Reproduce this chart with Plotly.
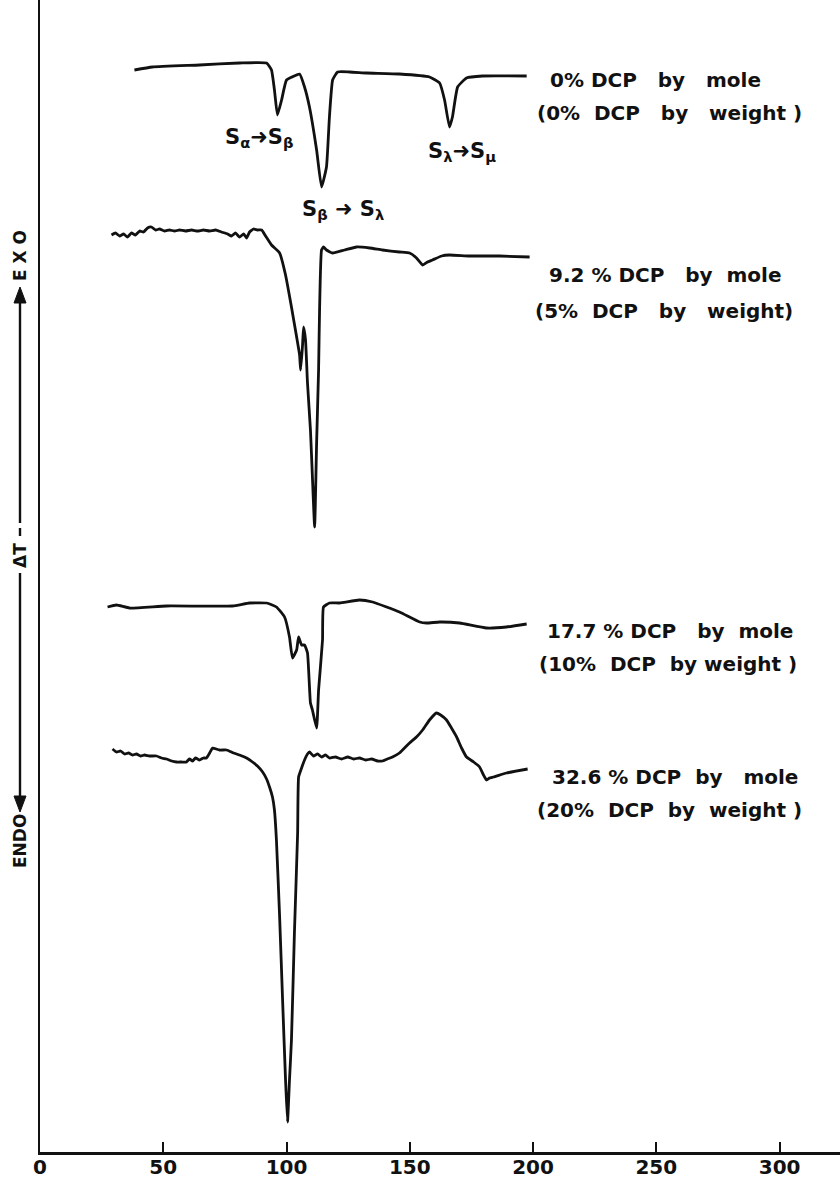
import plotly.graph_objects as go

# DTA thermograms of sulfur / DCP mixtures (temperature in deg C, Delta T in arbitrary units,
# curves stacked with vertical offsets)

temp_0 = [38.3, 45.6, 64.7, 80.9, 91.9, 93.9, 95.1, 96.3, 98.0, 100.0, 104.1, 105.3, 107.3,
          109.3, 112.2, 114.2, 116.2, 117.4, 118.7, 120.7, 125.6, 132.5, 145.8, 158.0, 162.1,
          164.1, 166.1, 167.3, 169.4, 173.0, 179.5, 197.4]
dta_0 = [108.2, 108.5, 108.7, 108.9, 108.9, 108.2, 106.2, 103.7, 105.2, 107.2, 107.7, 107.8,
         106.5, 104.5, 100.2, 96.5, 98.5, 103.5, 107.2, 108.0, 108.0, 107.9, 107.8, 107.5,
         106.9, 105.2, 102.5, 103.5, 106.5, 107.4, 107.6, 107.6]

temp_5 = [29.0, 30.6, 32.3, 33.9, 35.5, 37.1, 38.7, 40.4, 42.0, 43.6, 45.2, 46.9, 48.5, 50.5,
          52.5, 54.6, 56.6, 59.0, 61.5, 63.9, 66.3, 68.8, 71.2, 73.6, 76.1, 77.7, 79.3, 80.9,
          82.6, 83.8, 85.0, 86.6, 88.2, 89.9, 91.5, 93.9, 97.2, 99.6, 102.0, 104.1, 105.3,
          105.7, 106.5, 106.9, 107.7, 108.5, 109.7, 110.5, 111.4, 112.2, 113.0, 113.4, 114.2,
          115.0, 116.2, 118.7, 123.5, 128.4, 133.7, 138.9, 145.8, 149.9, 152.7, 155.2, 157.2,
          159.2, 162.9, 166.1, 174.2, 186.4, 198.6]
dta_5 = [91.7, 91.9, 91.6, 91.8, 91.5, 91.9, 91.7, 92.1, 92.0, 92.4, 92.5, 92.2, 92.3, 92.1,
         92.2, 92.1, 92.2, 92.1, 92.2, 92.1, 92.2, 92.1, 92.2, 92.0, 91.8, 91.6, 91.9, 91.5,
         91.8, 91.4, 92.0, 92.3, 92.2, 92.2, 91.6, 90.7, 89.9, 87.7, 84.5, 81.5, 79.7, 78.2,
         80.7, 82.5, 81.2, 76.9, 72.2, 67.5, 62.5, 70.9, 78.2, 84.2, 90.2, 90.5, 90.2, 89.9,
         90.2, 90.5, 90.4, 90.2, 90.0, 89.9, 89.4, 88.7, 89.0, 89.2, 89.6, 89.7, 89.6, 89.6,
         89.5]

temp_10 = [27.4, 31.0, 36.3, 51.3, 78.1, 85.0, 91.9, 95.9, 99.2, 101.2, 102.4, 104.1, 104.9,
           106.1, 107.3, 108.5, 109.7, 110.5, 112.2, 113.0, 114.6, 115.0, 117.4, 121.5, 129.6,
           134.9, 145.8, 154.0, 156.8, 162.1, 170.2, 181.1, 189.2, 197.4]
dta_10 = [54.5, 54.7, 54.4, 54.6, 54.6, 54.9, 54.9, 54.5, 53.5, 51.5, 49.4, 50.2, 51.5, 50.7,
          50.7, 49.9, 44.9, 44.2, 42.4, 46.2, 51.2, 54.5, 54.9, 54.9, 55.2, 55.0, 54.0, 53.0,
          52.9, 53.0, 52.9, 52.4, 52.5, 52.8]

temp_20 = [29.4, 31.0, 32.7, 34.3, 35.9, 37.5, 39.1, 40.8, 42.4, 44.4, 47.3, 49.3, 51.3, 53.4,
           55.4, 57.4, 59.4, 60.6, 61.9, 63.1, 64.7, 66.3, 67.5, 68.8, 70.0, 72.8, 75.7, 78.5,
           80.9, 83.8, 86.2, 88.2, 90.3, 91.9, 93.1, 94.3, 95.1, 95.9, 97.2, 98.4, 99.6, 100.4,
           101.2, 102.0, 103.2, 104.5, 104.9, 106.1, 107.3, 108.5, 109.3, 110.9, 112.6, 114.2,
           115.8, 117.4, 119.9, 122.3, 124.8, 127.2, 129.6, 132.1, 134.5, 136.9, 138.9, 140.9,
           143.0, 145.8, 149.9, 152.7, 155.2, 158.0, 160.8, 162.5, 164.9, 166.9, 169.0, 171.0,
           173.0, 175.9, 178.3, 179.9, 181.1, 182.3, 184.0, 189.2, 197.8]
dta_20 = [40.3, 40.0, 40.1, 39.8, 39.9, 39.7, 39.8, 39.6, 39.7, 39.6, 39.6, 39.4, 39.3, 39.1,
          39.0, 39.0, 39.0, 39.3, 39.1, 39.4, 39.2, 39.4, 39.4, 39.9, 40.4, 40.2, 40.2, 39.9,
          39.7, 39.4, 39.0, 38.6, 38.0, 37.3, 36.5, 35.5, 34.2, 31.2, 23.5, 15.2, 7.2, 3.0,
          7.2, 11.2, 21.9, 31.9, 37.5, 38.4, 39.2, 39.8, 40.0, 39.6, 39.8, 39.5, 39.7, 39.4,
          39.5, 39.3, 39.5, 39.3, 39.4, 39.2, 39.3, 39.1, 39.1, 39.3, 39.5, 39.9, 40.9, 41.5,
          42.2, 43.2, 43.9, 43.7, 43.2, 42.4, 41.5, 40.4, 39.5, 39.0, 38.5, 37.7, 37.2, 37.4,
          37.5, 37.9, 38.3]

curve_temps = [temp_0, temp_5, temp_10, temp_20]
curve_dta = [dta_0, dta_5, dta_10, dta_20]

NB = "\u00a0"
mole_labels = [f"0%{NB}DCP{NB}{NB}{NB}by{NB}{NB}{NB}mole",
               f"9.2{NB}%{NB}DCP{NB}{NB}{NB}by{NB}{NB}mole",
               f"17.7{NB}%{NB}DCP{NB}{NB}{NB}by{NB}{NB}mole",
               f"32.6{NB}%{NB}DCP{NB}{NB}by{NB}{NB}{NB}mole"]
weight_labels = [f"(0%{NB}{NB}DCP{NB}{NB}{NB}by{NB}{NB}{NB}weight{NB})",
                 f"(5%{NB}{NB}DCP{NB}{NB}{NB}by{NB}{NB}{NB}weight)",
                 f"(10%{NB}{NB}DCP{NB}{NB}by{NB}weight{NB})",
                 f"(20%{NB}{NB}DCP{NB}{NB}by{NB}{NB}weight{NB})"]
mole_x = [205.9, 205.5, 204.7, 206.7]
weight_x = [200.6, 199.8, 201.4, 200.6]
mole_y = [107.2, 87.7, 52.1, 37.5]
weight_y = [103.9, 84.1, 48.8, 34.2]

transition_labels = ["S<sub>α</sub>➜S<sub>β</sub>", f"S<sub>β</sub>{NB}➜{NB}S<sub>λ</sub>",
                     "S<sub>λ</sub>➜S<sub>μ</sub>"]
transition_x = [89.0, 122.7, 171.3]
transition_y = [101.4, 94.2, 100.0]

x_ticks = [0, 50, 100, 150, 200, 250, 300]

FONT = "DejaVu Sans"
INK = "#111111"

fig = go.Figure()
for t, d in zip(curve_temps, curve_dta):
    fig.add_trace(go.Scatter(x=t, y=d, mode="lines",
                             line=dict(color=INK, width=2.8, shape="spline", smoothing=0.4),
                             showlegend=False, hoverinfo="skip"))

annotations = []
for mx, wx, my, wy, ml, wl in zip(mole_x, weight_x, mole_y, weight_y, mole_labels, weight_labels):
    annotations.append(dict(x=mx, y=my, xref="x", yref="y", text=ml, showarrow=False,
                            xanchor="left", yanchor="middle",
                            font=dict(family=FONT, size=20, color=INK, weight="bold")))
    annotations.append(dict(x=wx, y=wy, xref="x", yref="y", text=wl, showarrow=False,
                            xanchor="left", yanchor="middle",
                            font=dict(family=FONT, size=20, color=INK, weight="bold")))

for tl, tx, ty in zip(transition_labels, transition_x, transition_y):
    annotations.append(dict(x=tx, y=ty, xref="x", yref="y", text=tl, showarrow=False,
                            xanchor="center", yanchor="middle",
                            font=dict(family=FONT, size=21, color=INK, weight="bold")))


def px_x(px):
    return (px - 40) / 800


def px_y(py):
    return (1152 - py) / 1152


# Delta T axis caption: ENDO <---- dT ----> EXO
CAP_X = 20
for txt, py in [(f"E{NB}X{NB}O", 256), ("ΔT", 556), ("ENDO", 841)]:
    annotations.append(dict(x=px_x(CAP_X), y=px_y(py), xref="paper", yref="paper", text=txt,
                            textangle=-90, showarrow=False, xanchor="center", yanchor="middle",
                            font=dict(family=FONT, size=17, color=INK, weight="bold")))

shapes = []
for y0, y1 in [(301, 523), (528, 536), (573, 798)]:
    shapes.append(dict(type="line", xref="paper", yref="paper", x0=px_x(CAP_X), x1=px_x(CAP_X),
                       y0=px_y(y0), y1=px_y(y1), line=dict(color=INK, width=2.4)))
for tip, base in [(287, 303), (812, 796)]:
    path = (f"M {px_x(CAP_X)},{px_y(tip)} L {px_x(CAP_X - 6)},{px_y(base)} "
            f"L {px_x(CAP_X + 6)},{px_y(base)} Z")
    shapes.append(dict(type="path", xref="paper", yref="paper", path=path,
                       fillcolor=INK, line=dict(color=INK, width=1)))

fig.update_layout(
    width=840, height=1180,
    margin=dict(l=40, r=0, t=0, b=28, autoexpand=False),
    paper_bgcolor="white", plot_bgcolor="white",
    showlegend=False,
    annotations=annotations,
    shapes=shapes,
    xaxis=dict(range=[0, 324.5], tickvals=x_ticks, ticktext=[str(v) for v in x_ticks],
               ticks="inside", ticklen=10, tickwidth=2, tickcolor=INK, automargin=False,
               ticklabelstandoff=-5,
               showline=True, linewidth=2.5, linecolor=INK, showgrid=False, zeroline=False,
               tickfont=dict(family=FONT, size=20, color=INK, weight="bold")),
    yaxis=dict(range=[0, 115.2], showticklabels=False, ticks="", showline=True,
               automargin=False,
               linewidth=2, linecolor=INK, showgrid=False, zeroline=False),
)

fig.write_html("out.html")
